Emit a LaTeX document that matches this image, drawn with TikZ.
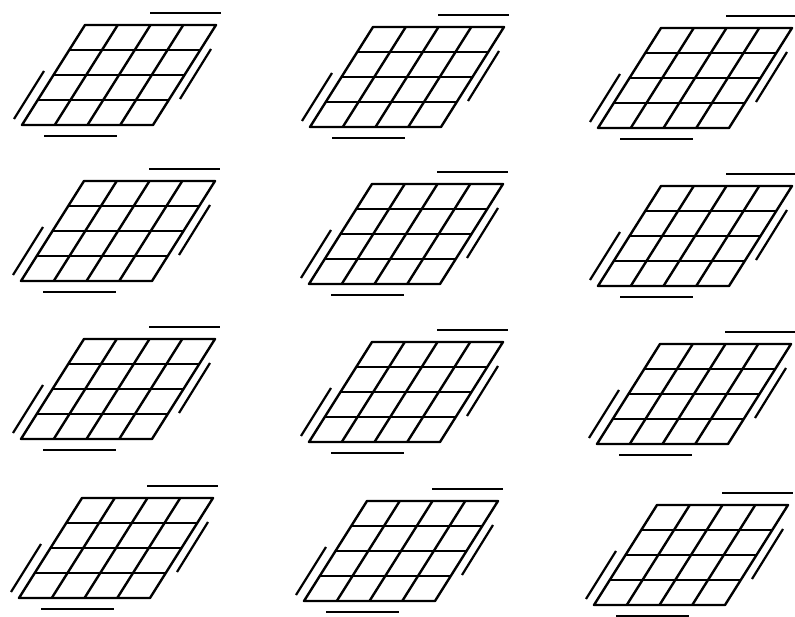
\documentclass[tikz,border=0pt]{standalone}
\begin{document}
\begin{tikzpicture}[x=1pt,y=-1pt,
  gridline/.style={line width=2.4pt, line join=round},
  barline/.style={line width=2.2pt},
  kmap/.pic={
    \coordinate (-bl) at (0,0);
    \coordinate (-br) at (131,0);
    \coordinate (-tr) at (194,-100);
    \coordinate (-tl) at (63,-100);
    \draw[gridline] (-bl) -- (-br) -- (-tr) -- (-tl) -- cycle;
    \foreach \i in {1,2,3} {
      \draw[gridline] ({32.75*\i},0) -- ({32.75*\i+63},-100);
      \draw[gridline] ({15.75*\i},{-25*\i}) -- ({15.75*\i+131},{-25*\i});
    }
    \draw[barline] (128,-112) -- (199,-112);
    \draw[barline] (22,11) -- (95,11);
    \draw[barline] (22,-54) -- (-8,-6);
    \draw[barline] (189,-76) -- (158,-26);
  }]
\useasboundingbox (0,0) rectangle (795,617);
\pic (m11) at (22,125) {kmap};
\pic (m12) at (310,127) {kmap};
\pic (m13) at (598,128) {kmap};
\pic (m21) at (21,281) {kmap};
\pic (m22) at (309,284) {kmap};
\pic (m23) at (598,286) {kmap};
\pic (m31) at (21,439) {kmap};
\pic (m32) at (309,442) {kmap};
\pic (m33) at (597,444) {kmap};
\pic (m41) at (19,598) {kmap};
\pic (m42) at (304,601) {kmap};
\pic (m43) at (594,605) {kmap};
\end{tikzpicture}
\end{document}
